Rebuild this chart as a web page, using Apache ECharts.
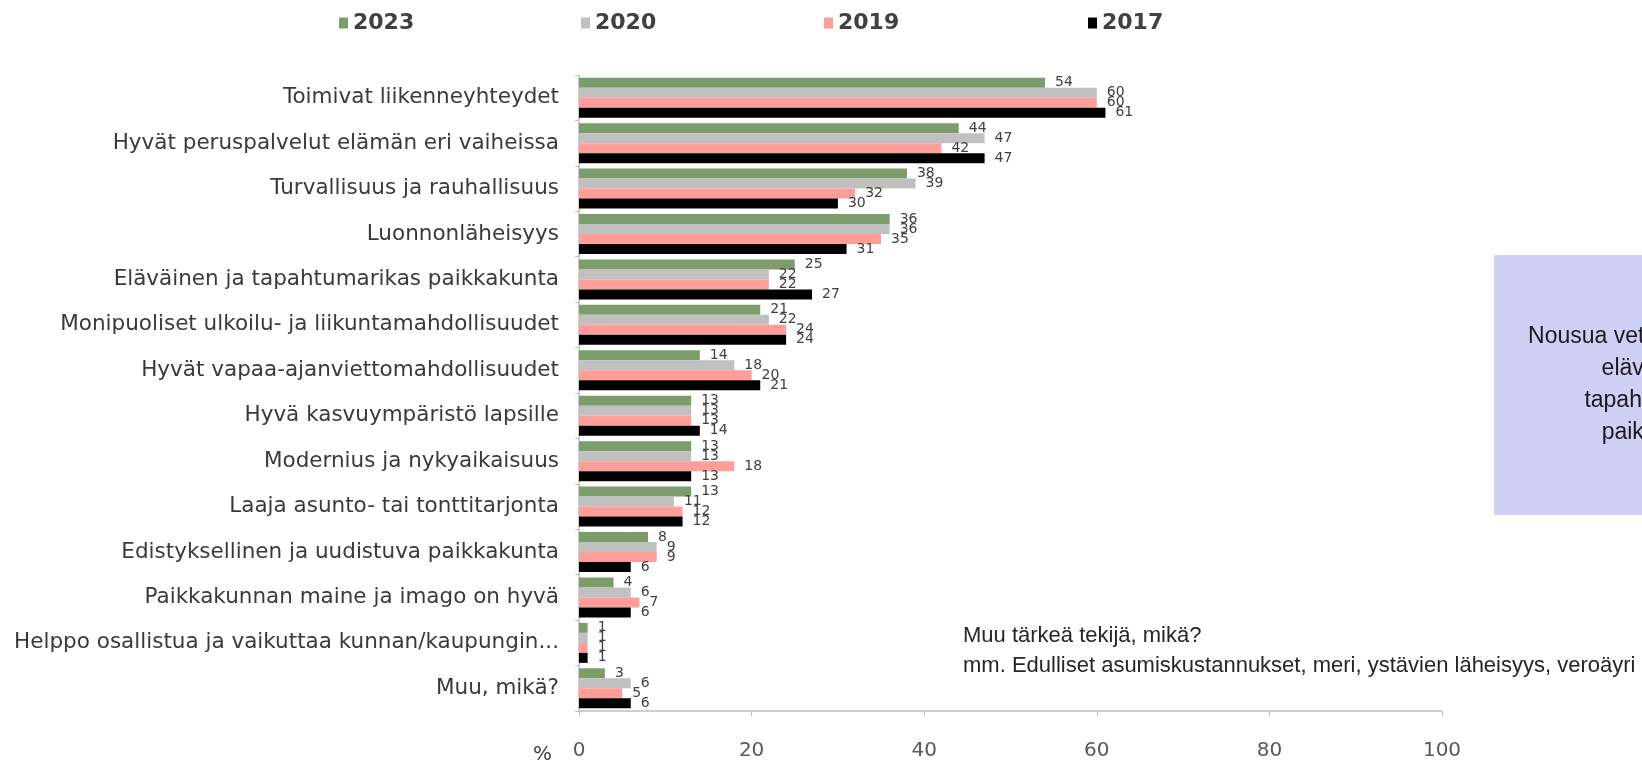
<!DOCTYPE html>
<html>
<head>
<meta charset="utf-8">
<title>Vetovoimatekijät</title>
<script src="https://cdn.jsdelivr.net/npm/echarts@6/dist/echarts.min.js"></script>
<style>
	html, body {
		margin: 0;
		padding: 0;
		background: #ffffff;
	}
	#main {
		width: 1642px;
		height: 765px;
	}
</style>
</head>
<body>
<div id="main"></div>
<script>
	const categories = [
		'Toimivat liikenneyhteydet',
		'Hyvät peruspalvelut elämän eri vaiheissa',
		'Turvallisuus ja rauhallisuus',
		'Luonnonläheisyys',
		'Eläväinen ja tapahtumarikas paikkakunta',
		'Monipuoliset ulkoilu- ja liikuntamahdollisuudet',
		'Hyvät vapaa-ajanviettomahdollisuudet',
		'Hyvä kasvuympäristö lapsille',
		'Modernius ja nykyaikaisuus',
		'Laaja asunto- tai tonttitarjonta',
		'Edistyksellinen ja uudistuva paikkakunta',
		'Paikkakunnan maine ja imago on hyvä',
		'Helppo osallistua ja vaikuttaa kunnan/kaupungin...',
		'Muu, mikä?'
	]
	const years = ['2023', '2020', '2019', '2017']
	const v2023 = [54, 44, 38, 36, 25, 21, 14, 13, 13, 13, 8, 4, 1, 3]
	const v2020 = [60, 47, 39, 36, 22, 22, 18, 13, 13, 11, 9, 6, 1, 6]
	const v2019 = [60, 42, 32, 35, 22, 24, 20, 13, 18, 12, 9, 7, 1, 5]
	const v2017 = [61, 47, 30, 31, 27, 24, 21, 14, 13, 12, 6, 6, 1, 6]
	const xTicks = [0, 20, 40, 60, 80, 100]
	const noteLines = ['Muu tärkeä tekijä, mikä?', 'mm. Edulliset asumiskustannukset, meri, ystävien läheisyys, veroäyri']
	const boxLines = ['Nousua vetovoimatekijänä', 'eläväinen ja', 'tapahtumarikas', 'paikkakunta']

	const colors = ['#7d9c6b', '#c0c0c0', '#ff9e98', '#000000']
	const values = [v2023, v2020, v2019, v2017]
	const legendLeft = [334, 576, 819, 1083]

	const myChart = echarts.init(document.getElementById('main'))

	myChart.setOption({
		animation: false,
		color: colors,
		textStyle: {
			fontFamily: 'DejaVu Sans'
		},
		legend: years.map(function(y, i) {
			return {
				data: [y],
				left: legendLeft[i],
				top: 7,
				itemWidth: 9,
				itemHeight: 11,
				itemGap: 5,
				icon: 'rect',
				textStyle: {
					fontSize: 22,
					fontWeight: 'bold',
					color: '#404040'
				}
			}
		}),
		grid: {
			left: 579,
			right: 200,
			top: 75,
			bottom: 47
		},
		xAxis: {
			type: 'value',
			min: xTicks[0],
			max: xTicks[xTicks.length - 1],
			interval: xTicks[1] - xTicks[0],
			name: '%',
			nameLocation: 'start',
			nameGap: 27,
			nameTextStyle: {
				fontSize: 20,
				color: '#404040',
				verticalAlign: 'top',
				padding: [34, 0, 0, 0]
			},
			axisLine: {
				show: true,
				lineStyle: {
					color: '#bfbfbf',
					width: 1.5
				}
			},
			axisTick: {
				show: true,
				length: 5,
				lineStyle: {
					color: '#bfbfbf'
				}
			},
			splitLine: {
				show: false
			},
			axisLabel: {
				fontSize: 20,
				color: '#595959',
				margin: 30
			}
		},
		yAxis: {
			type: 'category',
			inverse: true,
			data: categories,
			axisLine: {
				show: true,
				lineStyle: {
					color: '#bfbfbf',
					width: 1.5
				}
			},
			axisTick: {
				show: true,
				length: 4,
				lineStyle: {
					color: '#bfbfbf'
				}
			},
			axisLabel: {
				fontSize: 21.5,
				color: '#3a3a3a',
				margin: 20
			}
		},
		series: years.map(function(y, i) {
			return {
				name: y,
				type: 'bar',
				data: values[i],
				barWidth: 10,
				barGap: '0%',
				itemStyle: {
					color: colors[i]
				},
				label: {
					show: true,
					position: 'right',
					distance: 10,
					fontSize: 14,
					color: '#404040'
				}
			}
		}),
		graphic: [{
				type: 'rect',
				shape: {
					x: 1494,
					y: 255,
					width: 200,
					height: 260
				},
				style: {
					fill: '#cfd0f5'
				}
			},
			{
				type: 'text',
				x: 1663,
				y: 321,
				style: {
					text: boxLines.join('\n'),
					font: '23px "Liberation Sans"',
					fill: '#1a1a1a',
					align: 'center',
					verticalAlign: 'top',
					lineHeight: 32
				}
			},
			{
				type: 'text',
				x: 963,
				y: 621,
				style: {
					text: noteLines.join('\n'),
					font: '22px "Liberation Sans"',
					fill: '#262626',
					align: 'left',
					verticalAlign: 'top',
					lineHeight: 30
				}
			}
		]
	})
</script>
</body>
</html>
